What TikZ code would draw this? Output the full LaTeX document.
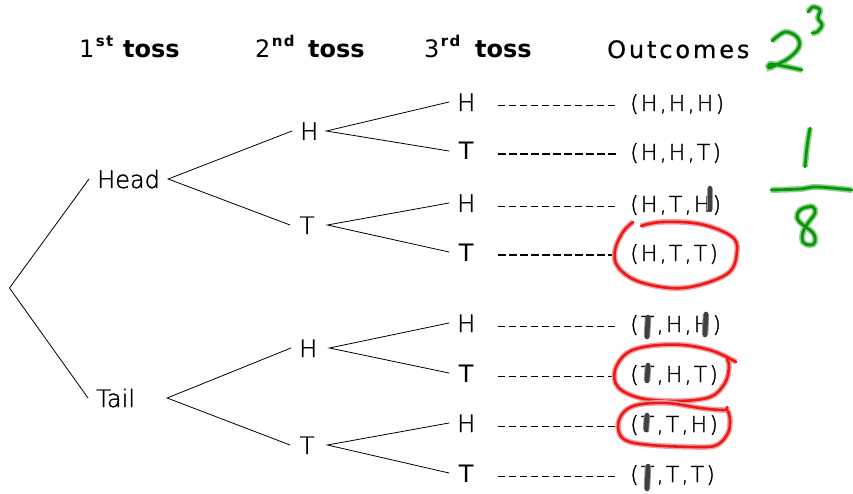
\documentclass[tikz,border=0pt]{standalone}
\usepackage{fontspec}
\setmainfont{DejaVu Sans}
\IfFontExistsTF{DejaVu Sans ExtraLight}
 {\newfontfamily\thinfont{DejaVu Sans ExtraLight}[FakeBold=1.5]
  \newfontfamily\thinwide{DejaVu Sans ExtraLight}[LetterSpace=10,FakeBold=1.5]}
 {\newfontfamily\thinfont{DejaVu Sans}
  \newfontfamily\thinwide{DejaVu Sans}[LetterSpace=10]}
\newfontfamily\widefont{DejaVu Sans}[LetterSpace=12,FakeBold=0.6]
\newfontfamily\supfont{DejaVu Sans}[LetterSpace=8]
\definecolor{pengreen}{RGB}{10,150,10}
\definecolor{greenhalo}{RGB}{140,210,140}
\definecolor{penred}{RGB}{235,25,25}
\definecolor{redhalo}{RGB}{245,160,160}
\newcommand\sups[1]{\hspace{1.5pt}\raisebox{11pt}{\supfont\fontsize{15}{15}\selectfont\bfseries #1}}
\newcommand\ltr[1]{\makebox[18pt][c]{#1}}
\begin{document}
\begin{tikzpicture}[x=1pt,y=-1pt,
  hdr/.style={inner sep=0pt,anchor=base west,font=\fontsize{24}{24}\selectfont},
  lbl/.style={inner xsep=8pt,inner ysep=0pt,text height=18pt,text depth=0pt,
    anchor=base west,font=\thinfont\fontsize{24}{24}\selectfont},
  outc/.style={inner sep=0pt,text height=18pt,text depth=0pt,anchor=base west,
    font=\thinwide\fontsize{22}{22}\selectfont},
  branch/.style={line width=0.8pt,line cap=round},
  lead/.style={line width=0.9pt,dash pattern=on 7pt off 4pt,shorten <=15pt,shorten >=13pt},
  leadbold/.style={lead,line width=1.8pt,dash pattern=on 8pt off 3pt},
  redpen/.style={draw=penred,line width=2.6pt,line cap=round,line join=round,
    preaction={draw=redhalo,line width=5.5pt}},
  greenpen/.style={draw=pengreen,line width=2.8pt,line cap=round,line join=round,
    preaction={draw=greenhalo,line width=6pt}},
  graymark/.style={draw=black!75,line width=4.6pt,line cap=round,
    preaction={draw=black!40,line width=6.5pt}}]
\useasboundingbox (0,0) rectangle (853,494);

% column headings
\node[hdr] (h1) at (79,58) {\makebox[44pt][l]{1\sups{st}}\textbf{toss}};
\node[hdr] (h2) at (255,58) {\makebox[53pt][l]{2\sups{nd}}\textbf{toss}};
\node[hdr] (h3) at (424,58) {\makebox[51pt][l]{3\sups{rd}}\textbf{toss}};
\node[hdr] (h4) at (607,58) {\widefont Outcomes};

% first toss
\coordinate (root) at (9.5,288);
\node[lbl] (head) at (89,188) {Head};
\node[lbl] (tail) at (88,407) {Tail};

% second toss
\node[lbl] (hh) at (292,140) {\ltr{H}};
\node[lbl] (ht) at (290,234) {\ltr{T}};
\node[lbl] (th) at (291,357) {\ltr{H}};
\node[lbl] (tt) at (290,454) {\ltr{T}};

% third toss
\node[lbl] (r1) at (449,111) {\ltr{H}};
\node[lbl] (r2) at (449,160) {\ltr{\fontspec{DejaVu Sans}T}};
\node[lbl] (r3) at (449,212) {\ltr{H}};
\node[lbl] (r4) at (449,261) {\ltr{\fontspec{DejaVu Sans}T}};
\node[lbl] (r5) at (449,332) {\ltr{H}};
\node[lbl] (r6) at (449,382) {\ltr{\fontspec{DejaVu Sans}T}};
\node[lbl] (r7) at (449,432) {\ltr{H}};
\node[lbl] (r8) at (449,482) {\ltr{\fontspec{DejaVu Sans}T}};

% outcomes
\node[outc] (o1) at (630,111) {(H,H,H)};
\node[outc] (o2) at (630,160) {(H,H,T)};
\node[outc] (o3) at (630,212) {(H,T,H)};
\node[outc] (o4) at (630,261) {(H,T,T)};
\node[outc] (o5) at (630,332) {(T,H,H)};
\node[outc] (o6) at (630,382) {(T,H,T)};
\node[outc] (o7) at (630,432) {(T,T,H)};
\node[outc] (o8) at (630,482) {(T,T,T)};

% branches
\draw[branch] (head.west) -- (root) -- (tail.west);
\draw[branch] (hh.west) -- (head.east) -- (ht.west);
\draw[branch] (th.west) -- ([xshift=24pt]tail.east) -- (tt.west);
\draw[branch] (r1.west) -- (hh.east) -- (r2.west);
\draw[branch] (r3.west) -- ([xshift=3pt]ht.east) -- (r4.west);
\draw[branch] (r5.west) -- ([xshift=4pt]th.east) -- (r6.west);
\draw[branch] (r7.west) -- ([xshift=3pt]tt.east) -- (r8.west);

% leader lines to the outcomes
\foreach \k/\s in {1/lead,2/leadbold,3/lead,4/leadbold,5/lead,6/lead,7/lead,8/lead}
  \draw[\s] ([yshift=-3pt]r\k.east) -- ([yshift=-3pt]o\k.west);

% pen strokes over single letters
\draw[graymark] (710,188) -- (710,210);
\draw[graymark] (648,317) -- (647,337);
\draw[graymark] (706,314) -- (705,335);
\draw[graymark] (648,365) -- (647,381);
\draw[graymark] (647,415) -- (646,430);
\draw[graymark] (648,466) -- (647,489);

% red rings
\draw[redpen] plot[smooth,tension=0.6] coordinates {(633,222) (623,232) (615,250) (618,267) (640,282) (683,288) (727,274) (737,251) (731,236) (700,224) (662,222) (641,226)};
\draw[redpen] plot[smooth,tension=0.6] coordinates {(736,362) (713,351) (683,345) (650,346) (627,353) (615,370) (618,387) (640,398) (677,401) (710,397) (725,383) (729,367) (727,359)};
\draw[redpen] plot[smooth,tension=0.6] coordinates {(727,407) (724,410) (700,408) (667,403) (637,405) (623,413) (618,427) (625,440) (650,445) (697,447) (717,445) (728,433) (730,420) (728,411)};

% green notes: 2^3 and 1/8
\draw[greenpen] plot[smooth,tension=0.6] coordinates {(772,41) (785,32) (797,37) (799,47) (789,58) (776,65) (769,68) (770,64) (783,66) (802,70)};
\draw[greenpen] plot[smooth,tension=0.6] coordinates {(808,12) (813,7) (820,10) (818,18) (822,25) (817,32) (812,33)};
\draw[greenpen] plot[smooth,tension=0.6] coordinates {(810,128) (807,147) (805,167)};
\draw[greenpen] plot[smooth,tension=0.6] coordinates {(771,190) (800,189) (817,187) (852,190)};
\draw[greenpen] plot[smooth cycle,tension=0.7] coordinates {(808,207) (800,210) (797,218) (803,225) (813,233) (815,242) (810,245) (803,242) (803,232) (808,223) (815,213) (813,207)};
\end{tikzpicture}
\end{document}
